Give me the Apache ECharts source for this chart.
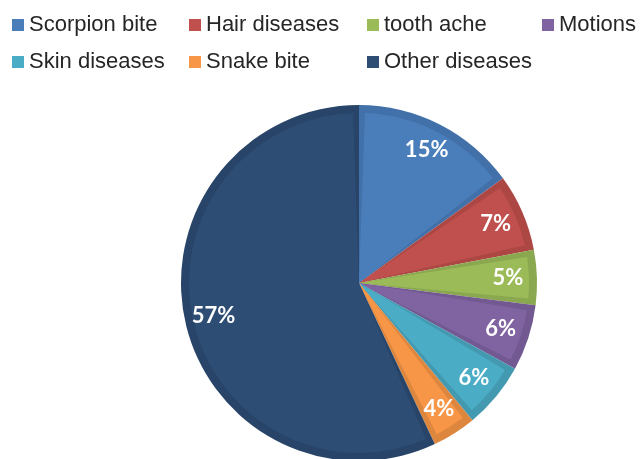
<!DOCTYPE html>
<html>
<head>
<meta charset="utf-8">
<script src="https://cdn.jsdelivr.net/npm/echarts@6/dist/echarts.min.js"></script>
<style>
  html, body { margin: 0; padding: 0; background: #fff; }
  #chart { width: 641px; height: 459px; }
</style>
</head>
<body>
<div id="chart"></div>
<script>
// Share of treated ailments (percent)
const categories = ['Scorpion bite', 'Hair diseases', 'tooth ache', 'Motions', 'Skin diseases', 'Snake bite', 'Other diseases'];
const shares = [15, 7, 5, 6, 6, 4, 57];

// Slice face colours and the slightly darker bevel rim colours
const faceColors = ['#4A7EBB', '#C0504D', '#9BBB59', '#8064A2', '#4BACC6', '#F79646', '#2D4D74'];
const rimColors  = ['#4270A8', '#AC4744', '#8AA84F', '#725992', '#4399B0', '#DD863E', '#284468'];

// Legend layout: two rows, fixed columns
const legendSlots = [
  [12, 14], [189, 14], [367, 14], [542, 14],
  [12, 51], [189, 51], [367, 51]
];

const center = [359, 283];
const outerR = 178;

const legends = categories.map((name, i) => ({
  left: legendSlots[i][0],
  top: legendSlots[i][1],
  padding: 0,
  orient: 'horizontal',
  icon: 'rect',
  itemWidth: 12,
  itemHeight: 12,
  itemGap: 0,
  selectedMode: false,
  data: [{ name: name, itemStyle: { color: faceColors[i] } }],
  textStyle: {
    fontFamily: 'Liberation Sans, Arial, sans-serif',
    fontSize: 22,
    lineHeight: 22,
    color: '#262626'
  }
}));

const chart = echarts.init(document.getElementById('chart'), null, { renderer: 'canvas' });

chart.setOption({
  animation: false,
  backgroundColor: '#ffffff',
  legend: legends,
  series: [
    {
      // rim layer: full slices in the darker shade
      type: 'pie',
      center: center,
      radius: [0, outerR],
      startAngle: 90,
      clockwise: true,
      silent: true,
      legendHoverLink: false,
      label: { show: false },
      labelLine: { show: false },
      itemStyle: { borderWidth: 0 },
      data: categories.map((name, i) => ({
        name: name, value: shares[i],
        itemStyle: { color: rimColors[i] }
      }))
    },
    {
      // face layer: slightly inset slices in the main shade
      type: 'pie',
      center: center,
      radius: [0, outerR - 8],
      startAngle: 90,
      clockwise: true,
      padAngle: 4,
      silent: true,
      legendHoverLink: false,
      label: { show: false },
      labelLine: { show: false },
      data: categories.map((name, i) => ({
        name: name, value: shares[i],
        itemStyle: { color: faceColors[i] }
      }))
    },
    {
      // percentage labels placed in a ring near the rim
      type: 'pie',
      center: center,
      radius: [114, outerR],
      startAngle: 90,
      clockwise: true,
      silent: true,
      legendHoverLink: false,
      itemStyle: { color: 'rgba(0,0,0,0)' },
      labelLine: { show: false },
      label: {
        show: true,
        position: 'inside',
        formatter: '{c}%',
        color: '#ffffff',
        fontFamily: 'Lato, sans-serif',
        fontWeight: 'bold',
        fontSize: 22
      },
      data: categories.map((name, i) => ({ name: name, value: shares[i] }))
    }
  ]
});
</script>
</body>
</html>
